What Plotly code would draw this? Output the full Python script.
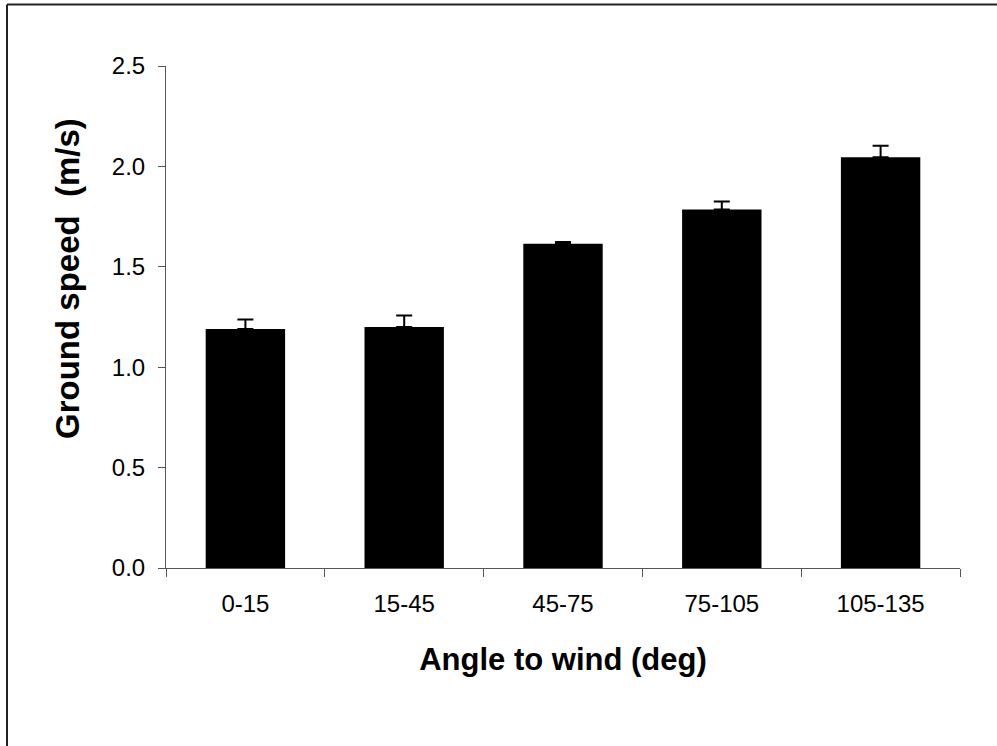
import plotly.graph_objects as go

# Ground speed by angle to wind
categories = ["0-15", "15-45", "45-75", "75-105", "105-135"]
speed = [1.19, 1.20, 1.615, 1.785, 2.045]
speed_err = [0.047, 0.057, 0.008, 0.04, 0.058]
y_ticks = [0.0, 0.5, 1.0, 1.5, 2.0, 2.5]

W, H = 997, 746
L, R, T, B = 166, 37, 66, 178
PW, PH = W - L - R, H - T - B


def px_x(px):
    return (px - L) / PW


def px_y(py):
    return (H - B - py) / PH


FONT = "Arial, Liberation Sans, sans-serif"

fig = go.Figure(
    go.Bar(
        x=categories,
        y=speed,
        marker=dict(color="black", line=dict(width=0)),
        error_y=dict(type="data", array=speed_err, symmetric=False,
                     arrayminus=[0] * len(speed_err),
                     color="black", thickness=2, width=8),
    )
)

fig.update_layout(
    width=W, height=H,
    margin=dict(l=L, r=R, t=T, b=B),
    paper_bgcolor="white", plot_bgcolor="white",
    bargap=0.5,
    showlegend=False,
    font=dict(family=FONT, color="black", size=24),
)

fig.update_xaxes(
    showline=True, linecolor="#555", linewidth=1,
    ticks="outside", tickson="boundaries", ticklen=8, tickcolor="#555",
    tickfont=dict(size=24, family=FONT), ticklabelstandoff=14,
    showgrid=False, zeroline=False,
    title=dict(text="<b>Angle to wind (deg)</b>", font=dict(size=31, family=FONT),
               standoff=32),
)

fig.update_yaxes(
    range=[0, 2.5], tickvals=y_ticks, tickformat=".1f",
    showline=True, linecolor="#555", linewidth=1,
    ticks="outside", ticklen=7, tickcolor="#555",
    tickfont=dict(size=24, family=FONT), ticklabelstandoff=8,
    showgrid=False, zeroline=False,
)

# Y-axis title
fig.add_annotation(
    text="<b>Ground speed\u00a0 (m/s)</b>", textangle=-90,
    xref="paper", yref="paper", x=px_x(67), y=px_y(279),
    showarrow=False, font=dict(size=33, family=FONT, color="black"),
    xanchor="center", yanchor="middle",
)

# Outer frame (top and left edges)
fig.add_shape(type="line", xref="paper", yref="paper",
              x0=px_x(7), x1=px_x(W + 5), y0=px_y(4.5), y1=px_y(4.5),
              line=dict(color="#222", width=2))
fig.add_shape(type="line", xref="paper", yref="paper",
              x0=px_x(7), x1=px_x(7), y0=px_y(4.5), y1=px_y(H + 5),
              line=dict(color="#222", width=2))

fig.write_html("out.html")
